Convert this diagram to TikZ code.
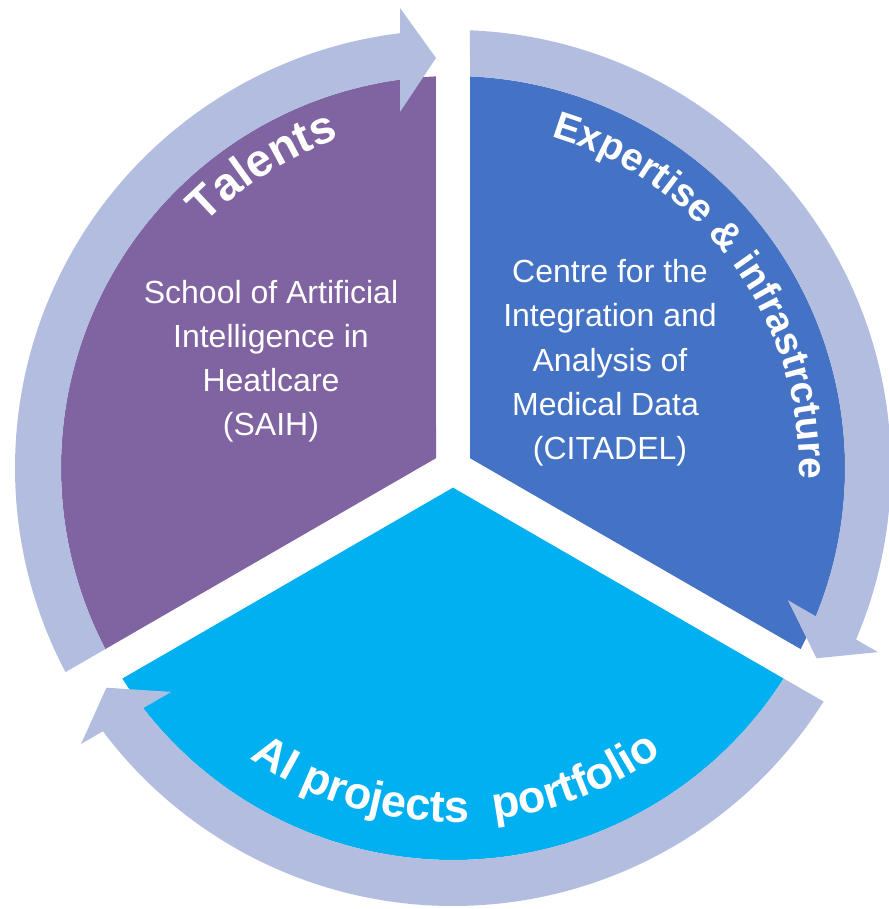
\documentclass[tikz,border=0pt]{standalone}
\usepackage{fontspec}
\setmainfont{Liberation Sans}
\usetikzlibrary{decorations.text}
\definecolor{sectpurple}{RGB}{127,100,161}
\definecolor{sectblue}{RGB}{68,114,196}
\definecolor{sectcyan}{RGB}{0,176,240}
\definecolor{bandcol}{RGB}{178,189,224}
\newcommand\bodyfont{\fontsize{32}{44.2}\selectfont}
\newcommand\talfont{\bfseries\fontsize{46}{50}\selectfont}
\newcommand\expfont{\bfseries\fontsize{39}{44}\selectfont}
\newcommand\aifont{\bfseries\fontsize{45}{50}\selectfont}
\begin{document}
\begin{tikzpicture}[x=1pt,y=1pt,
  bodytext/.style={text=white, align=center, font=\bodyfont, inner sep=0pt, anchor=north},
  arctitle/.style={decorate, decoration={text along path, text color=white, text align=left}}]
\fill[white] (-453,-441) rectangle (435,468);
\useasboundingbox (-453,-441) rectangle (435,468);
% sectors
\fill[sectpurple] (150:19.63) -- (92.49:392) arc[start angle=92.49, end angle=207.51, radius=392] -- cycle;
\begin{scope}[rotate=-120]
\fill[sectblue] (150:19.63) -- (92.49:392) arc[start angle=92.49, end angle=207.51, radius=392] -- cycle;
\end{scope}
\begin{scope}[rotate=120]
\fill[sectcyan] (150:19.63) -- (92.49:392) arc[start angle=92.49, end angle=207.51, radius=392] -- cycle;
\end{scope}
% circular arrows
\foreach \r in {0,-120,120}{
\begin{scope}[rotate=\r]
\fill[bandcol] (207.51:392) arc[start angle=207.51, end angle=97.77, radius=392] -- (-53,356) -- (-17,410) -- (-53,460) -- (96.95:438) arc[start angle=96.95, end angle=207.78, radius=438] -- cycle;
\end{scope}}
% titles along arcs
\path[arctitle, decoration={text={|\talfont|Talents}}] (135.5:348) arc[start angle=135.5, end angle=80, radius=348];
\path[arctitle, decoration={text={|\expfont|Expertise {\&} infrastrcture}}] (73.5:346) arc[start angle=73.5, end angle=-20, radius=346];
\path[arctitle, decoration={text={|\aifont|AI projects{\ \ }portfolio}}] (235:354) arc[start angle=235, end angle=330, radius=354];
% body texts
\node[bodytext] (saih) at (-182,188.3) {School of Artificial\\Intelligence in\\Heatlcare\\(SAIH)};
\node[bodytext] (citadel) at (157,208.6) {Centre for the\\Integration and\\Analysis of\\Medical Data\kern9pt\\(CITADEL)};
\end{tikzpicture}
\end{document}
